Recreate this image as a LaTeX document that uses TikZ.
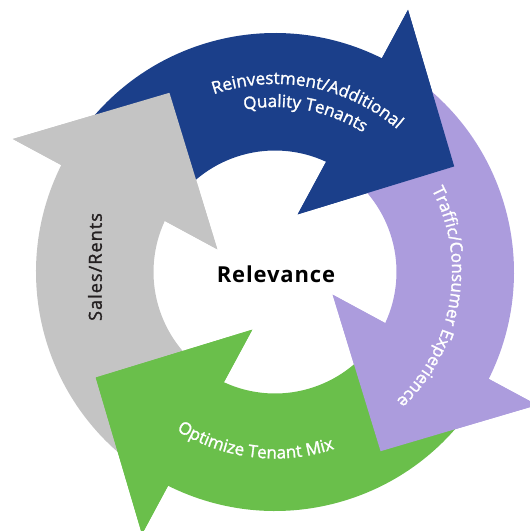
\documentclass[tikz,border=0pt]{standalone}
\usepackage{fontspec}
\setmainfont{Open Sans}
\newfontfamily\labfont{Open Sans}[FakeBold=1.5]
\newfontfamily\salesfont{Open Sans}[FakeBold=1.5,LetterSpace=6]
\newfontfamily\relfont{Open Sans}[LetterSpace=4]
\usetikzlibrary{decorations.text}
\definecolor{cblue}{HTML}{1B3F8A}
\definecolor{cpurple}{HTML}{AC9CDD}
\definecolor{cgreen}{HTML}{6ABF4B}
\definecolor{cgray}{HTML}{C4C4C4}
\definecolor{cdark}{HTML}{231F20}
\newcommand{\cycBody}[2]{%
  \begin{scope}[rotate=#1]
    \fill[#2] (0:208) -- (32.6:294) -- (32.9:239)
      arc[start angle=32.9,end angle=116,radius=239] -- (116:121.5)
      arc[start angle=116,end angle=34.6,radius=121.5] -- (38:62) -- cycle;
  \end{scope}}
\newcommand{\cycHead}[2]{%
  \begin{scope}[rotate=#1]
    \fill[#2] (0:208) -- (32.6:294) -- (38:62) -- cycle;
  \end{scope}}
\begin{document}
\begin{tikzpicture}[x=1pt,y=1pt,
  labeltext/.style={decorate},
  centertext/.style={font=\fontsize{22}{26}\selectfont\relfont\bfseries, text=black}]
\useasboundingbox (-275,-259) rectangle (255,272);
% bodies
\cycBody{120.5}{cgray}
\cycBody{30.5}{cblue}
\cycBody{-59.5}{cpurple}
\cycBody{-149.5}{cgreen}
% heads on top
\cycHead{120.5}{cgray}
\cycHead{30.5}{cblue}
\cycHead{-59.5}{cpurple}
\cycHead{-149.5}{cgreen}
% labels
\path[labeltext,decoration={text along path,text align=center,
  text={|\fontsize{17}{20}\selectfont\labfont\color{white}|Reinvestment/Additional}}]
  (149.2:188) arc[start angle=149.2,end angle=9.2,radius=188];
\path[labeltext,decoration={text along path,text align=center,
  text={|\fontsize{17}{20}\selectfont\labfont\color{white}|Quality Tenants}}]
  (149.2:165) arc[start angle=149.2,end angle=9.2,radius=165];
\path[labeltext,decoration={text along path,text align=center,
  text={|\fontsize{17}{20}\selectfont\labfont\color{white}|Traffic/Consumer Experience}}]
  (60.5:177) arc[start angle=60.5,end angle=-79.5,radius=177];
\path[labeltext,decoration={text along path,text align=center,
  text={|\fontsize{17}{20}\selectfont\labfont\color{white}|Optimize Tenant Mix}}]
  (-166.6:186.5) arc[start angle=-166.6,end angle=-26.6,radius=186.5];
\node[rotate=90,text=cdark,font=\fontsize{18}{21}\selectfont\salesfont] (sales) at (-180,5) {Sales/Rents};
\node[centertext] (rel) at (1,-2) {Relevance};
\end{tikzpicture}
\end{document}
